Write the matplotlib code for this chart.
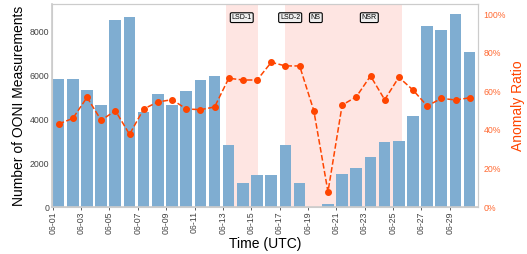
import matplotlib
matplotlib.use("Agg")
import matplotlib.pyplot as plt
import matplotlib.dates as mdates
import matplotlib.transforms as mtransforms
import pandas as pd

plt.rcParams['font.family'] = ['Liberation Sans', 'DejaVu Sans']

days = pd.date_range("2020-06-01", periods=30, freq="D")
measurements = [5800, 5800, 5300, 4650, 8500, 8630, 4300, 5130, 4640, 5270,
                5770, 5950, 2820, 1090, 1450, 1450, 2820, 1100, 0, 140,
                1500, 1770, 2270, 2950, 3000, 4140, 8230, 8050, 8770, 7050]
anomaly_ratio = [0.431, 0.460, 0.569, 0.450, 0.500, 0.377, 0.509, 0.545, 0.557, 0.509,
                 0.505, 0.519, 0.668, 0.659, 0.659, 0.751, 0.732, 0.732, 0.500, 0.079,
                 0.529, 0.572, 0.680, 0.557, 0.673, 0.607, 0.524, 0.564, 0.555, 0.567]

# shutdown periods (start, end, label)
events = [("2020-06-13 05:00", "2020-06-15 11:00", "LSD-1"),
          ("2020-06-17 10:00", "2020-06-18 02:00", "LSD-2"),
          ("2020-06-18 03:00", "2020-06-21 00:00", "NS"),
          ("2020-06-21 00:00", "2020-06-25 16:00", "NSR")]

bar_color = "#7fadd1"
line_color = "#ff4500"
grey = "#444444"

fig = plt.figure(figsize=(5.27, 2.54), dpi=100)
ax = fig.add_axes([0.099, 0.185, 0.808, 0.799])

for start, end, name in events:
    s = pd.Timestamp(start)
    e = pd.Timestamp(end)
    ax.axvspan(s, e, color="salmon", alpha=0.2, lw=0, zorder=0)
    trans = mtransforms.blended_transform_factory(ax.transData, ax.transAxes)
    ax.text(s + (e - s) / 2, 0.933, name, transform=trans, ha="center", va="center",
            fontsize=5, zorder=5,
            bbox=dict(boxstyle="round,pad=0.2", fc="#eeeeee", ec="black", lw=0.8))

ax.bar(days, measurements, width=0.82, align="edge", color=bar_color, zorder=2)

ax.set_xlim(pd.Timestamp("2020-06-01") - pd.Timedelta(hours=1), pd.Timestamp("2020-07-01"))
ax.set_ylim(0, 9230)
ax.set_yticks([0, 2000, 4000, 6000, 8000])
ax.set_xticks(days[::2])
ax.xaxis.set_major_formatter(mdates.DateFormatter("%m-%d"))
ax.tick_params(axis="x", rotation=90, labelsize=6.3, colors=grey, length=2, width=0.6, pad=1)
ax.tick_params(axis="y", labelsize=6.3, colors=grey, length=0, pad=2)
ax.set_xlabel("Time (UTC)", fontsize=10, labelpad=2)
ax.set_ylabel("Number of OONI Measurements", fontsize=10, labelpad=3)

ax2 = ax.twinx()
centers = days + pd.Timedelta(hours=10)
ax2.plot(centers, anomaly_ratio, linestyle="--", marker="o", color=line_color,
         lw=1.1, markersize=4, zorder=3)
ax2.set_ylim(0, 1.053)
ax2.set_yticks([0, 0.2, 0.4, 0.6, 0.8, 1.0])
ax2.set_yticklabels(["0%", "20%", "40%", "60%", "80%", "100%"])
ax2.tick_params(axis="y", labelsize=6.3, colors="#ff6a33", length=0, pad=4)
ax2.set_ylabel("Anomaly Ratio", fontsize=10, color=line_color, labelpad=4)

for a in (ax, ax2):
    for sp in a.spines.values():
        sp.set_color("#cccccc")
        sp.set_linewidth(0.8)
ax.spines["left"].set_linewidth(1.2)
ax.spines["bottom"].set_linewidth(1.2)

fig.savefig("out.png", dpi=100)
